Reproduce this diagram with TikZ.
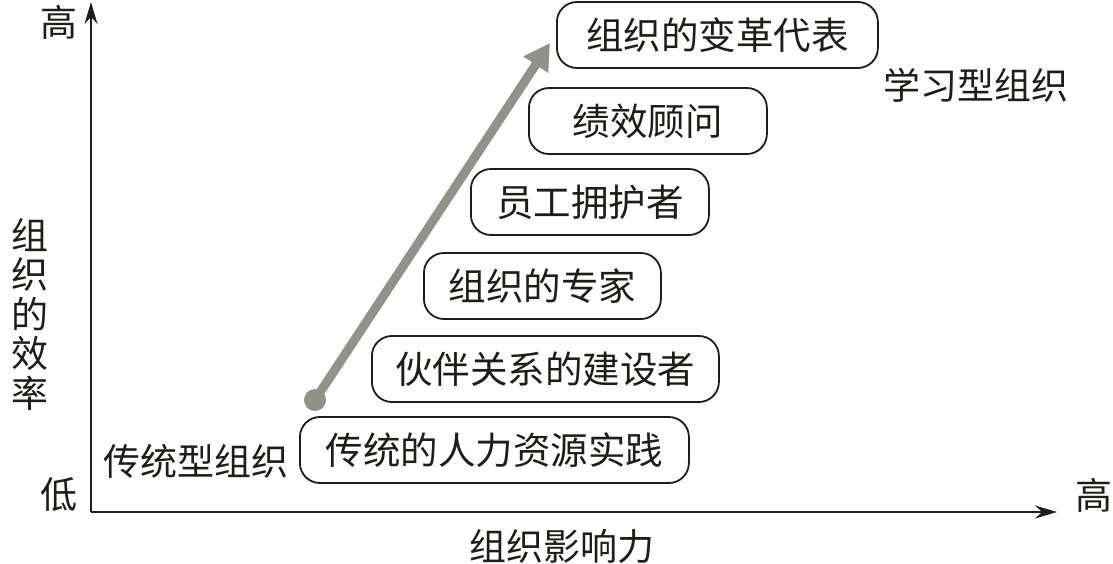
\documentclass[tikz,border=0pt]{standalone}
\usepackage{fontspec}
\setmainfont{Noto Sans CJK SC}
\usetikzlibrary{arrows.meta}
\definecolor{ink}{RGB}{30,30,25}
\definecolor{arrowgray}{RGB}{146,146,136}
\tikzset{
  rolebox/.style={draw=ink, line width=1.8pt, rounded corners=20pt, fill=white,
    minimum height=66pt, inner xsep=20pt, font=\fontsize{37.5}{40}\selectfont, text=ink, anchor=west},
  lbl/.style={font=\fontsize{37}{40}\selectfont, text=ink, inner sep=0pt},
  axis/.style={draw=ink, line width=1.6pt, -{Stealth[length=22pt,width=13pt]}}
}
\begin{document}
\begin{tikzpicture}[x=1pt,y=-1pt]
\useasboundingbox (0,0) rectangle (1113,563);
% axes
\coordinate (O) at (91,512);
\coordinate (ytop) at (91,2);
\coordinate (xend) at (1057,512);
\draw[axis] (O) -- (ytop);
\draw[axis] (O) -- (xend);
% axis labels
\node[lbl] (yhigh) at (59,22) {高};
\node[lbl] (ylow) at (59,495) {低};
\node[lbl] (xhigh) at (1094,495) {高};
\node[lbl] (xlabel) at (562,546) {组织影响力};
\node[lbl, align=center, font=\fontsize{37}{39.5}\selectfont] (ylabel) at (30,314) {组\\织\\的\\效\\率};
\node[lbl] (trad) at (196,461) {传统型组织};
\node[lbl] (learn) at (976,85) {学习型组织};
% boxes
\node[rolebox, minimum width=389pt] (b1) at (299,450) {传统的人力资源实践};
\node[rolebox, minimum width=347pt] (b2) at (371,369) {伙伴关系的建设者};
\node[rolebox, minimum width=237pt] (b3) at (423,286) {组织的专家};
\node[rolebox, minimum width=238pt] (b4) at (470,202) {员工拥护者};
\node[rolebox, minimum width=238pt] (b5) at (528,121) {绩效顾问};
\node[rolebox, minimum width=321pt] (b6) at (556,35) {组织的变革代表};
% growth arrow
\coordinate (astart) at (315,400);
\coordinate (aend) at (550,43);
\fill[arrowgray] (astart) circle (11pt);
\draw[arrowgray, line width=9pt, -{Triangle[length=26pt,width=28pt]}] (astart) -- (aend);
\end{tikzpicture}
\end{document}
